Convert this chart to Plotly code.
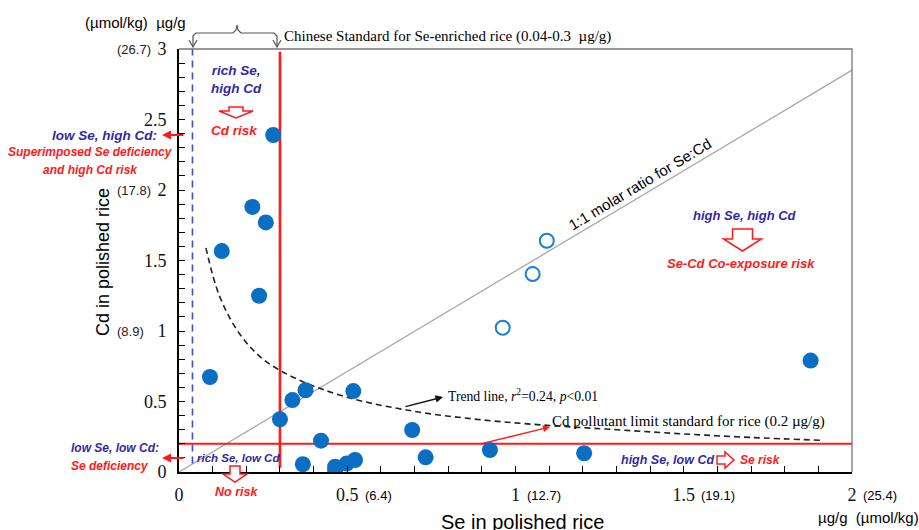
import plotly.graph_objects as go

# ---------------- data ----------------
se_filled = [0.280, 0.218, 0.258, 0.127, 0.238, 0.092, 0.337, 0.376, 0.518, 0.300,
             0.422, 0.693, 0.733, 0.368, 0.464, 0.464, 0.498, 0.523, 0.924, 1.204, 1.877]
cd_filled = [2.39, 1.88, 1.77, 1.567, 1.25, 0.674, 0.51, 0.58, 0.574, 0.374,
             0.222, 0.298, 0.104, 0.055, 0.038, 0.014, 0.06, 0.085, 0.156, 0.133, 0.79]
se_open = [1.093, 1.051, 0.962]
cd_open = [1.64, 1.404, 1.023]

trend_x = [0.08, 0.12, 0.18, 0.25, 0.35, 0.5, 0.7, 0.9, 1.1, 1.3, 1.5, 1.7, 1.91]
trend_y = [1.59, 1.25, 0.98, 0.80, 0.66, 0.53, 0.43, 0.37, 0.33, 0.30, 0.27, 0.245, 0.225]

molar_x = [0, 2]
molar_y = [0, 2.85]

se_std_low, se_std_high = 0.04, 0.3
cd_limit = 0.2

x_tickvals = [0, 0.5, 1, 1.5, 2]
x_ticktext = ["0", "0.5", "1", "1.5", "2"]
x_umol = ["", "(6.4)", "(12.7)", "(19.1)", "(25.4)"]
x_umol_offset = [0, 17, 10, 16, 10]
y_tickvals = [0, 0.5, 1, 1.5, 2, 2.5, 3]
y_ticktext = ["0", "0.5", "1", "1.5", "2", "2.5", "3"]
y_umol = ["", "", "(8.9)", "", "(17.8)", "", "(26.7)"]

# ---------------- layout geometry ----------------
W, H = 919, 530
L, R, T, B = 179, 852, 49, 472


def px(x):
    return (x - L) / (R - L)


def py(y):
    return (B - y) / (B - T)


def path(pts, close=False):
    s = "M " + " L ".join(f"{px(a):.5f},{py(b):.5f}" for a, b in pts)
    return s + (" Z" if close else "")


RED = "#ff1a1a"
BLUE = "#33299f"
SANS = "Liberation Sans, Arial, sans-serif"
SERIF = "Liberation Serif, Times New Roman, serif"

fig = go.Figure()

fig.add_trace(go.Scatter(x=trend_x, y=trend_y, mode="lines", line=dict(color="#222", width=1.6, dash="6px,4px", shape="spline"),
                         hoverinfo="skip", showlegend=False))
fig.add_trace(go.Scatter(x=se_filled, y=cd_filled, mode="markers",
                         marker=dict(size=16, color="#0a6fc2", line=dict(width=0)), showlegend=False))
fig.add_trace(go.Scatter(x=se_open, y=cd_open, mode="markers",
                         marker=dict(size=14, color="rgba(0,0,0,0)", line=dict(width=2, color="#1c80d8")), showlegend=False))

shapes = []
shapes.append(dict(type="line", xref="x", yref="y", x0=molar_x[0], y0=molar_y[0], x1=molar_x[1], y1=molar_y[1],
                   line=dict(color="#a8a8a8", width=1.3), layer="below"))
shapes.append(dict(type="line", xref="x", yref="y", x0=se_std_low, x1=se_std_low, y0=0.06, y1=3,
                   line=dict(color="#3b4fd0", width=1.6, dash="7px,5px"), layer="below"))
shapes.append(dict(type="line", xref="x", yref="y", x0=se_std_high, x1=se_std_high, y0=0.03, y1=2.98,
                   line=dict(color=RED, width=2.6), layer="below"))
shapes.append(dict(type="line", xref="x", yref="y", x0=0, x1=2, y0=cd_limit, y1=cd_limit,
                   line=dict(color=RED, width=2), layer="below"))
shapes.append(dict(type="path", xref="paper", yref="paper", path="M 0,1 L 1,1 L 1,0",
                   line=dict(color="#777", width=1.3)))
# brace
shapes.append(dict(type="path", xref="paper", yref="paper",
                   path=path([(193, 47), (193, 36), (196, 33), (233, 33), (236, 30), (237, 25), (238, 30), (241, 33),
                              (274, 33), (277, 36), (277, 47)]),
                   line=dict(color="#555", width=1.2)))
shapes.append(dict(type="path", xref="paper", yref="paper", path=path([(189, 40), (193, 47), (197, 40)]),
                   line=dict(color="#555", width=1.2)))
shapes.append(dict(type="path", xref="paper", yref="paper", path=path([(273, 40), (277, 47), (281, 40)]),
                   line=dict(color="#555", width=1.2)))


def down_arrow(cx, top, head, tip, sw, hw):
    return path([(cx - sw, top), (cx + sw, top), (cx + sw, head), (cx + hw, head), (cx, tip),
                 (cx - hw, head), (cx - sw, head)], close=True)


for p in [down_arrow(236, 107, 111, 118, 7, 17), down_arrow(742.5, 229, 239, 251, 10, 19),
          down_arrow(235, 466, 474, 482, 5, 12)]:
    shapes.append(dict(type="path", xref="paper", yref="paper", path=p, fillcolor="white",
                       line=dict(color=RED, width=1.5)))
shapes.append(dict(type="path", xref="paper", yref="paper",
                   path=path([(717, 456), (725, 456), (725, 452), (734, 460), (725, 468), (725, 464), (717, 464)], close=True),
                   fillcolor="white", line=dict(color=RED, width=1.5)))

ann = []


def txt(x, y, text, size, color="black", family=SANS, xanchor="center", angle=0):
    ann.append(dict(x=px(x), y=py(y), xref="paper", yref="paper", text=text, showarrow=False,
                    xanchor=xanchor, yanchor="middle", textangle=angle, borderpad=0,
                    font=dict(size=size, color=color, family=family)))


txt(135, 22, "(µmol/kg)  µg/g", 15)
txt(868, 517, "µg/g  (µmol/kg)", 15)
txt(103, 262, "Cd in polished rice", 18, angle=-90)
txt(522, 522, "Se in polished rice", 20)
for v, t, o in zip(x_tickvals, x_umol, x_umol_offset):
    if t:
        txt(L + (R - L) * v / 2 + o, 495, t, 13, xanchor="left")
for v, t in zip(y_tickvals, y_umol):
    if t:
        ann.append(dict(x=px(116), y=v, xref="paper", yref="y", text=t, showarrow=False,
                        xanchor="left", yanchor="middle", borderpad=0,
                        font=dict(size=13, color="#222", family=SANS)))

txt(283, 36, "Chinese Standard for Se-enriched rice (0.04-0.3  µg/g)", 15, family=SERIF, xanchor="left")
txt(236, 79, "<b><i>rich Se,<br>high Cd</i></b>", 13.5, BLUE)
txt(234, 131, "<b><i>Cd risk</i></b>", 13.5, RED)
txt(158, 135, "<b><i>low Se, high Cd:</i></b>", 13.5, BLUE, xanchor="right")
txt(90, 152, "<b><i>Superimposed Se deficiency</i></b>", 12, RED)
txt(90, 170, "<b><i>and high Cd risk</i></b>", 12, RED)
txt(745, 215, "<b><i>high Se, high Cd</i></b>", 13, BLUE)
txt(741, 263, "<b><i>Se-Cd Co-exposure risk</i></b>", 13, RED)
txt(639, 184, "1:1 molar ratio for Se:Cd", 15, angle=-31)
txt(447, 395, "Trend line, <i>r</i><sup>2</sup>=0.24, <i>p</i>&lt;0.01", 13.7, family=SERIF, xanchor="left")
txt(551, 421, "Cd pollutant limit standard for rice (0.2 µg/g)", 15, family=SERIF, xanchor="left")
txt(70, 448, "<b><i>low Se, low Cd:</i></b>", 12, BLUE, xanchor="left")
txt(70, 466, "<b><i>Se deficiency</i></b>", 12, RED, xanchor="left")
txt(196, 458, "<b><i>rich Se, low Cd</i></b>", 11.5, BLUE, xanchor="left")
txt(236, 492, "<b><i>No risk</i></b>", 12.5, RED)
txt(620, 460, "<b><i>high Se, low Cd</i></b>", 12.5, BLUE, xanchor="left")
txt(739, 460, "<b><i>Se risk</i></b>", 12, RED, xanchor="left")


def arrow(hx, hy, tx, ty, color, width):
    ann.append(dict(x=px(hx), y=py(hy), xref="paper", yref="paper", ax=tx - hx, ay=ty - hy, axref="pixel", ayref="pixel",
                    text="", showarrow=True, arrowhead=2, arrowsize=1, arrowwidth=width, arrowcolor=color))


arrow(443, 397, 404, 407, "#111", 1.5)
arrow(550, 427, 480, 444, RED, 1.4)
arrow(162, 135, 185, 135, RED, 1.8)
arrow(162, 458, 185, 458, RED, 1.8)

fig.update_layout(
    width=W, height=H, margin=dict(l=L, r=W - R, t=T, b=H - B),
    plot_bgcolor="white", paper_bgcolor="white", showlegend=False,
    shapes=shapes, annotations=ann,
    xaxis=dict(range=[0, 2], tickvals=x_tickvals, ticktext=x_ticktext, showgrid=False, zeroline=False,
               showline=True, linecolor="black", linewidth=2, ticks="inside", ticklen=6, tickcolor="black",
               tickwidth=1.3, tickfont=dict(family=SERIF, size=18, color="#111"), ticklabelstandoff=5,
               minor=dict(dtick=0.1, ticks="inside", ticklen=6, tickcolor="black", tickwidth=1.3)),
    yaxis=dict(range=[0, 3], tickvals=y_tickvals, ticktext=y_ticktext, showgrid=False, zeroline=False,
               showline=True, linecolor="black", linewidth=2, ticks="inside", ticklen=6, tickcolor="black",
               tickwidth=1.3, tickfont=dict(family=SERIF, size=18, color="#111"), ticklabelstandoff=7,
               minor=dict(dtick=0.1, ticks="inside", ticklen=6, tickcolor="black", tickwidth=1.3)),
)

fig.write_html("out.html")
